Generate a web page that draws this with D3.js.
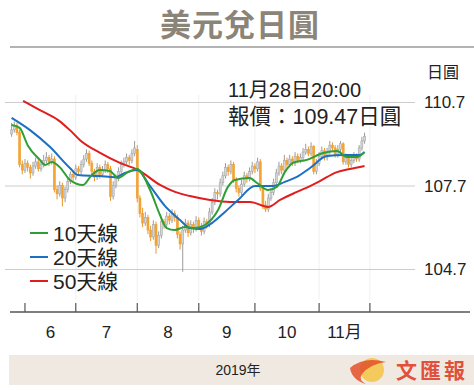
<!DOCTYPE html>
<html lang="zh-Hant">
<head>
    <meta charset="UTF-8">
    <script src="https://d3js.org/d3.v7.min.js"></script>
    <title>美元兌日圓</title>
    <style>
        body { margin: 0; background: #fff; }
        text { font-family: "Liberation Sans", "Noto Sans CJK TC", sans-serif; }
    </style>
</head>
<body>
<div id="viz"></div>
<script>
    // daily candles [open, high, low, close], late May -> 28 Nov 2019
    const candles = [
        [109.55, 109.95, 109.45, 109.70], [109.70, 110.00, 109.60, 109.85], [109.85, 109.95, 109.50, 109.60],
        [109.60, 109.70, 108.35, 108.45], [108.45, 108.60, 108.10, 108.25], [108.25, 108.65, 108.15, 108.50],
        [108.50, 108.60, 108.20, 108.35], [108.35, 108.45, 107.95, 108.15], [108.15, 108.55, 108.05, 108.40],
        [108.40, 108.70, 108.30, 108.55], [108.55, 108.65, 108.20, 108.30], [108.30, 108.60, 108.20, 108.45],
        [108.45, 108.80, 108.35, 108.60], [108.60, 108.90, 108.50, 108.70], [108.70, 108.80, 108.40, 108.55],
        [108.55, 108.85, 108.45, 108.65], [108.65, 108.75, 107.45, 107.55], [107.55, 107.70, 107.20, 107.40],
        [107.40, 107.85, 107.30, 107.70], [107.70, 107.80, 106.95, 107.25], [107.25, 107.65, 107.10, 107.55],
        [107.55, 107.95, 107.45, 107.85], [107.85, 108.20, 107.75, 108.10], [108.10, 108.25, 107.85, 108.00],
        [108.00, 108.45, 107.90, 108.30], [108.30, 108.40, 108.05, 108.20], [108.20, 108.60, 108.10, 108.45],
        [108.45, 108.80, 108.35, 108.65], [108.65, 109.00, 108.55, 108.85], [108.85, 108.95, 108.40, 108.50],
        [108.50, 108.60, 108.05, 108.20], [108.20, 108.30, 107.85, 108.00], [108.00, 108.50, 107.90, 108.35],
        [108.35, 108.45, 107.95, 108.10], [108.10, 108.40, 108.00, 108.25], [108.25, 108.60, 108.15, 108.45],
        [108.45, 108.55, 108.15, 108.30], [108.30, 108.40, 107.15, 107.30], [107.30, 107.85, 107.20, 107.70],
        [107.70, 108.10, 107.60, 107.95], [107.95, 108.35, 107.85, 108.20], [108.20, 108.60, 108.10, 108.45],
        [108.45, 108.70, 108.35, 108.55], [108.55, 108.85, 108.45, 108.70], [108.70, 108.80, 108.45, 108.60],
        [108.60, 109.00, 108.50, 108.85], [108.85, 109.30, 108.75, 109.05], [109.00, 109.15, 107.10, 107.25],
        [107.25, 107.35, 106.55, 106.70], [106.70, 106.90, 106.20, 106.35], [106.35, 106.75, 106.25, 106.55],
        [106.55, 106.65, 105.95, 106.10], [106.10, 106.25, 105.70, 105.85], [105.85, 106.45, 105.75, 106.30],
        [106.30, 106.40, 105.25, 105.55], [105.55, 106.05, 105.45, 105.90], [105.90, 106.55, 105.80, 106.40],
        [106.40, 106.50, 106.15, 106.30], [106.30, 106.75, 106.20, 106.60], [106.60, 106.70, 106.30, 106.45],
        [106.45, 106.85, 106.35, 106.70], [106.70, 106.80, 106.40, 106.55], [106.55, 106.65, 105.80, 105.95],
        [105.95, 106.05, 105.40, 105.60], [105.60, 106.25, 104.60, 106.10], [106.10, 106.50, 106.00, 106.35],
        [106.35, 106.45, 105.85, 106.00], [106.00, 106.45, 105.90, 106.30], [106.30, 106.40, 106.00, 106.15],
        [106.15, 106.60, 106.05, 106.45], [106.45, 106.55, 106.10, 106.25], [106.25, 106.35, 105.90, 106.05],
        [106.05, 106.55, 105.95, 106.40], [106.40, 106.50, 106.15, 106.30], [106.30, 106.90, 106.20, 106.75],
        [106.75, 107.25, 106.65, 107.10], [107.10, 107.60, 107.00, 107.45], [107.45, 107.55, 107.20, 107.40],
        [107.40, 107.95, 107.30, 107.80], [107.80, 108.20, 107.70, 108.05], [108.05, 108.50, 107.95, 108.35],
        [108.35, 108.45, 108.05, 108.20], [108.20, 108.60, 108.10, 108.45], [108.45, 108.55, 107.80, 107.90],
        [107.90, 108.00, 107.45, 107.60], [107.60, 107.70, 107.30, 107.45], [107.45, 107.90, 107.35, 107.75],
        [107.75, 108.20, 107.65, 108.05], [108.05, 108.15, 107.80, 107.95], [107.95, 108.35, 107.85, 108.20],
        [108.20, 108.55, 108.10, 108.40], [108.40, 108.50, 108.15, 108.30], [108.30, 108.70, 108.20, 108.55],
        [108.55, 108.65, 107.50, 107.60], [107.60, 107.70, 106.85, 107.00], [107.00, 107.15, 106.75, 106.85],
        [106.85, 107.40, 106.75, 107.25], [107.25, 107.60, 107.15, 107.45], [107.45, 107.95, 107.35, 107.80],
        [107.80, 108.30, 107.70, 108.15], [108.15, 108.55, 108.05, 108.40], [108.40, 108.50, 108.10, 108.25],
        [108.25, 108.80, 108.15, 108.60], [108.60, 108.70, 108.30, 108.45], [108.45, 108.80, 108.35, 108.65],
        [108.65, 108.75, 108.40, 108.50], [108.50, 108.90, 108.40, 108.75], [108.75, 108.85, 108.50, 108.60],
        [108.60, 108.85, 108.50, 108.70], [108.70, 109.05, 108.60, 108.90], [108.90, 109.20, 108.80, 109.00],
        [109.00, 109.10, 108.75, 108.85], [108.85, 109.25, 108.75, 109.10], [109.10, 109.15, 108.10, 108.20],
        [108.20, 108.65, 108.10, 108.50], [108.50, 108.90, 108.40, 108.75], [108.75, 109.10, 108.65, 108.95],
        [108.95, 109.05, 108.60, 108.70], [108.70, 109.05, 108.60, 108.90], [108.90, 109.30, 108.80, 109.15],
        [109.15, 109.25, 108.90, 109.05], [109.05, 109.15, 108.70, 108.80], [108.80, 109.15, 108.70, 109.00],
        [109.00, 109.30, 108.90, 109.20], [109.20, 109.25, 108.45, 108.55], [108.55, 108.85, 108.45, 108.70],
        [108.70, 108.80, 108.35, 108.45], [108.45, 108.75, 108.35, 108.60], [108.60, 108.90, 108.50, 108.75],
        [108.75, 108.85, 108.55, 108.65], [108.65, 109.15, 108.55, 109.05], [109.05, 109.45, 108.95, 109.30],
        [109.30, 109.60, 109.20, 109.47]
    ];

    // moving averages: [day index, value]
    const ma10 = [[0, 109.87], [3, 109.77], [6, 109.15], [10.6, 108.62], [12.5, 108.44], [15, 108.54], [18, 108.36],
        [21.8, 107.90], [26.7, 107.72], [30, 108.08], [33, 108.26], [36.8, 108.22], [39.8, 107.97], [43.5, 108.18],
        [46.9, 108.29], [51.8, 107.54], [55.5, 106.64], [58, 106.17], [61, 106.10], [64.8, 106.21], [68.6, 106.17],
        [72.3, 106.28], [77.2, 106.82], [80.9, 107.65], [83.5, 107.90], [89, 107.97], [91.8, 107.79], [95.9, 107.54],
        [99.2, 107.65], [102.2, 108.18], [105.2, 108.51], [110.4, 108.62], [116.5, 108.87], [121.7, 108.94],
        [125.4, 108.72], [129.2, 108.72], [132, 108.90]];
    const ma20 = [[0, 110.13], [6.9, 109.69], [14.4, 109.08], [21.8, 108.33], [24.8, 108.08], [33, 108.04],
        [38.7, 108.00], [42.4, 108.15], [46.9, 108.26], [51.8, 107.68], [57.4, 106.96], [63, 106.46], [66.7, 106.17],
        [70.5, 106.14], [74.9, 106.35], [79.8, 106.75], [84.7, 107.18], [91, 107.68], [97.8, 107.68], [102.2, 107.83],
        [106.7, 108.01], [111.6, 108.33], [117.9, 108.76], [124.7, 108.80], [130.3, 108.80], [132, 108.90]];
    const ma50 = [[4.3, 110.74], [10.6, 110.41], [17.4, 110.05], [21.8, 109.69], [25.6, 109.33], [33.1, 108.87],
        [40.5, 108.51], [47.3, 108.26], [55.5, 107.72], [61.1, 107.47], [66.7, 107.32], [74.2, 107.18],
        [81.7, 107.11], [89.2, 107.11], [95.9, 106.93], [100.4, 107.18], [106.7, 107.47], [111.6, 107.68],
        [115.3, 107.86], [121.7, 108.18], [126.5, 108.29], [132, 108.40]];

    const monthLabels = ["6", "7", "8", "9", "10", "11月"];
    const monthStarts = [5, 24, 47, 70, 91, 115, 134];   // first trading day index of each month (+ Dec)
    const yTicks = [110.7, 107.7, 104.7];
    const legendItems = [
        {name: "10天線", color: "#2f9e34", data: ma10},
        {name: "20天線", color: "#1c6fc2", data: ma20},
        {name: "50天線", color: "#e01e1e", data: ma50}
    ];

    const W = 474, H = 390;
    const svg = d3.select("#viz").append("svg")
        .attr("width", W).attr("height", H);

    const x = d3.scaleLinear().domain([0, 134]).range([11.6, 369.9]);
    const y = d3.scaleLinear().domain([104.7, 110.7]).range([269, 102]);

    // title
    svg.append("text")
        .attr("x", 240).attr("y", 36)
        .attr("text-anchor", "middle")
        .style("font-family", "'Noto Sans CJK TC', sans-serif")
        .style("font-weight", "bold")
        .style("font-size", "31px")
        .style("letter-spacing", "1px")
        .style("fill", "#8b8479")
        .text("美元兌日圓");
    svg.append("line")
        .attr("x1", 10).attr("x2", W).attr("y1", 47).attr("y2", 47)
        .style("stroke", "#9a9a9a").style("stroke-width", 1.5);

    // faint vertical month grid
    svg.append("g").selectAll("line")
        .data(monthStarts.slice(1))
        .join("line")
        .attr("x1", d => x(d)).attr("x2", d => x(d))
        .attr("y1", 95).attr("y2", 300)
        .style("stroke", "#f0f0f0").style("stroke-width", 1);

    // horizontal grid + right labels
    const yAxis = svg.append("g")
        .attr("transform", "translate(415,0)")
        .call(d3.axisRight(y).tickValues(yTicks).tickSize(-410).tickFormat(d3.format(".1f")));
    yAxis.select(".domain").remove();
    yAxis.selectAll(".tick line").style("stroke", "#cccccc");
    yAxis.selectAll(".tick text")
        .attr("x", 9).attr("dy", "0.35em")
        .style("font-size", "17px").style("fill", "#222");
    svg.append("text")
        .attr("x", 443).attr("y", 78)
        .attr("text-anchor", "middle")
        .style("font-size", "16px").style("fill", "#222")
        .text("日圓");

    // candles
    const bw = 2;
    const cg = svg.append("g").selectAll("g")
        .data(candles)
        .join("g");
    cg.append("line")
        .attr("x1", (d, i) => x(i)).attr("x2", (d, i) => x(i))
        .attr("y1", d => y(d[1])).attr("y2", d => y(d[2]))
        .style("stroke", d => d[3] >= d[0] ? "#9b9b9b" : "#e8962a")
        .style("stroke-width", 1);
    cg.append("rect")
        .attr("x", (d, i) => x(i) - bw / 2)
        .attr("width", bw)
        .attr("y", d => y(Math.max(d[0], d[3])))
        .attr("height", d => Math.max(1, Math.abs(y(d[0]) - y(d[3]))))
        .style("fill", d => d[3] >= d[0] ? "#d6d6d6" : "#f4a433")
        .style("stroke", d => d[3] >= d[0] ? "#a8a8a8" : "#f0a030")
        .style("stroke-width", 0.6);

    // moving average lines
    const line = d3.line()
        .x(d => x(d[0])).y(d => y(d[1]))
        .curve(d3.curveMonotoneX);
    svg.append("g").selectAll("path")
        .data(legendItems.slice().reverse())
        .join("path")
        .attr("d", d => line(d.data))
        .style("fill", "none")
        .style("stroke", d => d.color)
        .style("stroke-width", 2);

    // annotation
    svg.append("text")
        .attr("x", 228).attr("y", 97)
        .style("font-size", "20px").style("fill", "#222")
        .text("11月28日20:00");
    svg.append("text")
        .attr("x", 228).attr("y", 124)
        .style("font-size", "21.5px").style("fill", "#222")
        .text("報價：109.47日圓");

    // legend
    const lg = svg.append("g").selectAll("g")
        .data(legendItems)
        .join("g")
        .attr("transform", (d, i) => `translate(30, ${233 + i * 24})`);
    lg.append("line")
        .attr("x1", 0).attr("x2", 18)
        .style("stroke", d => d.color).style("stroke-width", 2);
    lg.append("text")
        .attr("x", 23).attr("y", 7.5)
        .style("font-size", "21px").style("fill", "#222")
        .text(d => d.name);

    // x axis
    svg.append("line")
        .attr("x1", 10).attr("x2", 470).attr("y1", 312).attr("y2", 312)
        .style("stroke", "#555").style("stroke-width", 1.5);
    svg.append("g").selectAll("line")
        .data(monthStarts)
        .join("line")
        .attr("x1", d => x(d)).attr("x2", d => x(d))
        .attr("y1", 303).attr("y2", 312)
        .style("stroke", "#555").style("stroke-width", 1.2);
    svg.append("g").selectAll("text")
        .data(monthLabels)
        .join("text")
        .attr("x", (d, i) => (x(monthStarts[i]) + x(monthStarts[i + 1])) / 2)
        .attr("y", 338)
        .attr("text-anchor", "middle")
        .style("font-size", "17px").style("fill", "#222")
        .text(d => d);

    // footer band
    svg.append("rect")
        .attr("x", 9).attr("y", 355).attr("width", W - 9).attr("height", 30)
        .style("fill", "#efe9e1");
    svg.append("text")
        .attr("x", 238).attr("y", 375)
        .attr("text-anchor", "middle")
        .style("font-size", "14px").style("fill", "#222")
        .text("2019年");

    // logo
    const logo = svg.append("g").attr("transform", "translate(372,370)");
    logo.append("circle").attr("r", 12).style("fill", "#f6c445").style("opacity", 0.85);
    logo.append("path")
        .attr("d", "M-22,-2 Q-8,-14 14,-8 Q-2,-6 -10,4 Q-14,10 -6,14 Q-20,10 -22,-2 Z")
        .style("fill", "#e2502a").style("opacity", 0.85);
    svg.append("text")
        .attr("x", 432).attr("y", 378)
        .attr("text-anchor", "middle")
        .style("font-family", "'Noto Sans CJK TC', serif")
        .style("font-weight", "bold")
        .style("font-size", "21px")
        .style("letter-spacing", "3px")
        .style("fill", "#e0503a")
        .text("文匯報");
</script>
</body>
</html>
